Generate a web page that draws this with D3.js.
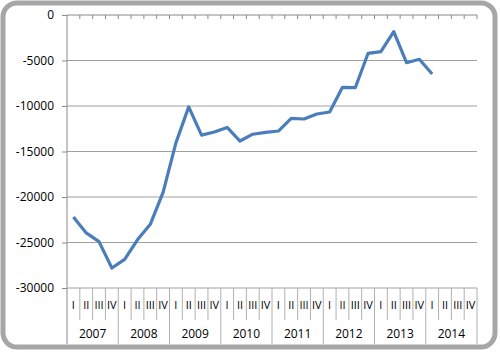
<!DOCTYPE html>
<html>
<head>
<meta charset="utf-8">
<script src="https://cdn.jsdelivr.net/npm/d3@7"></script>
<style>
  body { margin: 0; background: #fff; }
  svg text { font-family: "Open Sans", "DejaVu Sans", sans-serif; fill: #000; }
</style>
</head>
<body>
<div class="chart"></div>
<script>
const years = ["2007", "2008", "2009", "2010", "2011", "2012", "2013", "2014"];
const quarters = ["I", "II", "III", "IV"];
const values = [
  -22200, -23950, -24900, -27800,
  -26850, -24700, -23000, -19500,
  -14050, -10100, -13200, -12850,
  -12350, -13850, -13100, -12900,
  -12750, -11350, -11430, -10880,
  -10660, -7950, -7990, -4210,
  -4030, -1830, -5240, -4870,
  -6480
];
const yTicks = [0, -5000, -10000, -15000, -20000, -25000, -30000];

const width = 500, height = 352;
const plotLeft = 67, plotRight = 477, plotTop = 15, plotBottom = 288;

const svg = d3.select(".chart").append("svg")
  .attr("width", width)
  .attr("height", height);

// outer frame
svg.append("rect")
  .attr("x", 3).attr("y", 3)
  .attr("width", 492).attr("height", 344)
  .attr("rx", 14)
  .attr("fill", "#fff")
  .attr("stroke", "#a6a6a6")
  .attr("stroke-width", 5);

const cats = [];
years.forEach(y => quarters.forEach(q => cats.push(y + "-" + q)));

const x = d3.scaleBand().domain(cats).range([plotLeft, plotRight]);
const y = d3.scaleLinear().domain([-30000, 0]).range([plotBottom, plotTop]);

// gridlines
svg.append("g")
  .selectAll("line")
  .data(yTicks.filter(d => d !== 0 && d !== -30000))
  .enter().append("line")
  .attr("x1", plotLeft).attr("x2", plotRight)
  .attr("y1", d => y(d)).attr("y2", d => y(d))
  .attr("stroke", "#a0a0a0")
  .attr("stroke-width", 1);

// y axis (plain hyphen minus like the original)
const yAxis = d3.axisLeft(y).tickValues(yTicks).tickSize(5).tickPadding(8).tickFormat(d => String(d));
svg.append("g")
  .attr("transform", "translate(" + plotLeft + ",0)")
  .call(yAxis)
  .call(g => g.select(".domain").attr("stroke", "#8a8a8a").attr("d", "M0," + plotTop + "V" + (height - 8)))
  .call(g => g.selectAll(".tick line").attr("stroke", "#8a8a8a"))
  .call(g => g.selectAll("text").attr("font-size", 12).attr("fill", "#000"));

// bottom line at -30000
svg.append("line")
  .attr("x1", plotLeft).attr("x2", plotRight)
  .attr("y1", y(-30000)).attr("y2", y(-30000))
  .attr("stroke", "#a0a0a0");

// category axis at zero (ticks only)
svg.append("line")
  .attr("x1", plotLeft).attr("x2", plotRight)
  .attr("y1", y(0)).attr("y2", y(0))
  .attr("stroke", "#8a8a8a");
svg.append("g")
  .selectAll("line")
  .data(cats)
  .enter().append("line")
  .attr("x1", d => x(d) + x.bandwidth()).attr("x2", d => x(d) + x.bandwidth())
  .attr("y1", y(0)).attr("y2", y(0) + 4)
  .attr("stroke", "#8a8a8a");

// multi-level category labels
const labels = svg.append("g");
labels.selectAll("line.q")
  .data(cats)
  .enter().append("line")
  .attr("class", "q")
  .attr("x1", d => x(d) + x.bandwidth()).attr("x2", d => x(d) + x.bandwidth())
  .attr("y1", plotBottom)
  .attr("y2", (d, i) => (i % 4 === 3) ? height - 8 : plotBottom + 32)
  .attr("stroke", "#b0b0b0");
labels.selectAll("text.q")
  .data(cats)
  .enter().append("text")
  .attr("class", "q")
  .attr("x", d => x(d) + x.bandwidth() / 2)
  .attr("y", plotBottom + 21)
  .attr("text-anchor", "middle")
  .attr("font-size", 11)
  .text(d => d.split("-")[1]);
labels.selectAll("text.y")
  .data(years)
  .enter().append("text")
  .attr("class", "y")
  .attr("x", d => x(d + "-I") + 2 * x.bandwidth())
  .attr("y", plotBottom + 50)
  .attr("text-anchor", "middle")
  .attr("font-size", 12)
  .text(d => d);

// series line
const line = d3.line()
  .x((d, i) => x(cats[i]) + x.bandwidth() / 2)
  .y(d => y(d));
svg.append("path")
  .datum(values)
  .attr("d", line)
  .attr("fill", "none")
  .attr("stroke", "#4a7ebb")
  .attr("stroke-width", 3.2)
  .attr("stroke-linejoin", "round");
</script>
</body>
</html>
